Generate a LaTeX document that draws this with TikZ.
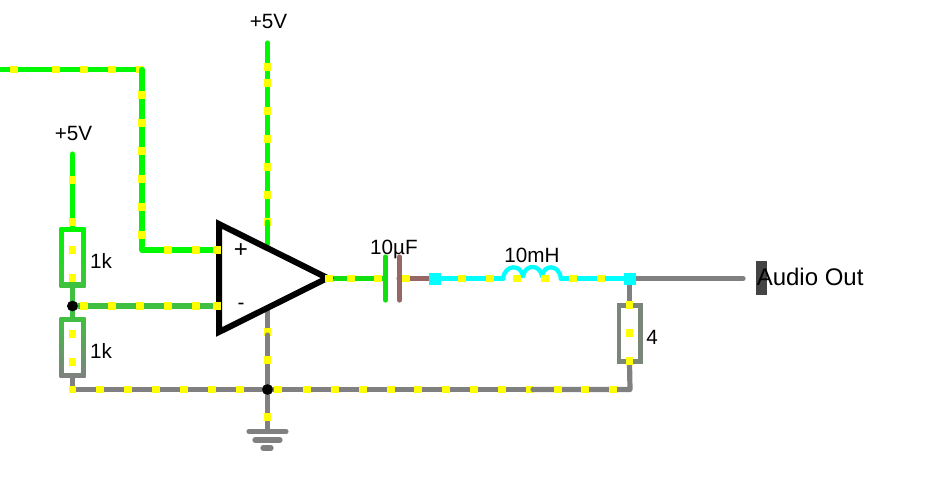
\documentclass[tikz,border=0pt]{standalone}
\usepackage{fontspec}
\setmainfont{Liberation Sans}
\usetikzlibrary{calc}

\definecolor{wireGreen}{HTML}{00F800}
\definecolor{midGreen}{HTML}{40C040}
\definecolor{outGreen}{HTML}{10E010}
\definecolor{capBrown}{HTML}{996666}
\definecolor{wireGray}{HTML}{808080}
\definecolor{plugGray}{HTML}{444444}
\definecolor{wireCyan}{HTML}{00FFFF}
\definecolor{dotYellow}{HTML}{FFFF00}

\begin{document}
\begin{tikzpicture}[
    x=0.75pt, y=-0.75pt,
    wire/.style={line width=3.9pt, line cap=round, line join=round},
    dotnode/.style={rectangle, fill=dotYellow, inner sep=0pt, minimum size=5.6pt},
    jointnode/.style={circle, fill=black, inner sep=0pt, minimum size=8pt},
    endnode/.style={rectangle, fill=wireCyan, inner sep=0pt, minimum size=9pt},
    resnode/.style={rectangle, inner sep=0pt, minimum width=19.5pt, minimum height=45pt},
    holenode/.style={rectangle, fill=white, inner sep=0pt, minimum width=12.75pt, minimum height=38pt},
    labelnode/.style={inner sep=0pt, font=\fontsize{15.5}{19}\selectfont},
]
    \useasboundingbox (0, 0) rectangle (931, 487);

    % wire corners and ends
    \foreach \name/\x/\y in {
    inStart/0/69.5, inTop/142/69.5, inLow/142/250, plusIn/218/250,
    vccTop/267.5/43, vccSplit/267.5/222, vccEnd/267.5/244,
    vsTop/72.5/154, vsEnd/72.5/229,
    minusIn/218/306,
    r1Bot/72.5/286, r2Top/72.5/319, r2Bot/72.5/376,
    railLeft/72.5/389.5, railSplit/533/389.5, railRight/630/389.5,
    gndOut/267.5/310, gndSplit/267.5/335, gndEnd/267.5/431,
    opOut/329/278.5, capL/385/278.5, capR/399/278.5,
    coilA/503/278.5, coilB/523/276, coilC/542/276, coilD/561/278.5,
    audioEnd/743/278.5,
    r3Top/629.5/304, r3Bot/629.5/363,
    gndL1/249/431.5, gndR1/286/431.5, gndL2/255/440, gndR2/280/440, gndL3/263/448, gndR3/271/448,
    capLa/385.5/257, capLb/385.5/300, capRa/399.5/257, capRb/399.5/300}
    {
        \coordinate (\name) at (\x, \y);
    }
    \node [endnode] at (435, 278.5) (coilIn){};
    \node [endnode] at (629.5, 278.5) (coilOut){};
    \node [jointnode] at (72.5, 306) (midJoint){};
    \node [jointnode] at (267.5, 389.5) (gndJoint){};

    % wires that lie under the first yellow squares
    \draw [wire, wireGray] (railLeft) -- (railSplit);
    \draw [wire, wireGreen] (inStart) -- (inTop);
    \draw [wire, wireGreen] (vccTop) -- (vccSplit);
    \draw [wire, wireGray] (gndOut) -- (gndSplit);
    \foreach \x/\y in {530/389.5, 140/69.5, 267.5/222, 267.5/332}
    {
        \node [dotnode] at (\x, \y) (early_\x_\y){};
    }

    % the other wires
    \draw [wire, wireGray] (railSplit) -- (railRight) -- (r3Bot);
    \draw [wire, wireGreen] (inTop) -- (inLow) -- (plusIn);
    \draw [wire, wireGreen] (vccSplit) -- (vccEnd);
    \draw [wire, wireGray] (gndSplit) -- (gndEnd);
    \draw [wire, wireGreen] (vsTop) -- (vsEnd);
    \draw [wire, midGreen] (r1Bot) -- (r2Top);
    \draw [wire, midGreen] (midJoint) -- (minusIn);
    \draw [wire, wireGray] (r2Bot) -- (railLeft);
    \draw [wire, outGreen] (opOut) -- (capL);
    \draw [wire, capBrown] (capR) -- (coilIn);
    \draw [wire, wireCyan] (coilIn) -- (coilA);
    \draw [wire, wireCyan] (coilD) -- (coilOut);
    \draw [wire, wireGray] (coilOut) -- (audioEnd);
    \draw [wire, wireGray] (coilOut) -- (r3Top);

    % inductor humps
    \draw [wire, wireCyan, line width=3.2pt] (coilA) .. controls (505, 264) and (521, 264) .. (coilB);
    \draw [wire, wireCyan, line width=3.2pt] (coilB) .. controls (525, 264) and (540, 264) .. (coilC);
    \draw [wire, wireCyan, line width=3.2pt] (coilC) .. controls (544, 264) and (559, 264) .. (coilD);

    % capacitor plates
    \draw [wire, outGreen] (capLa) -- (capLb);
    \draw [wire, capBrown] (capRa) -- (capRb);

    % ground bars
    \draw [wire, wireGray] (gndL1) -- (gndR1);
    \draw [wire, wireGray] (gndL2) -- (gndR2);
    \draw [wire, wireGray] (gndL3) -- (gndR3);

    % resistors
    \node [resnode, top color=wireGreen, bottom color=midGreen] at (72.5, 257) (r1){};
    \node [holenode] at (r1.center) (r1Hole){};
    \node [resnode, top color=midGreen, bottom color=wireGray] at (72.5, 347.5) (r2){};
    \node [holenode] at (r2.center) (r2Hole){};
    \node [resnode, fill=wireGray!95!green, minimum height=46pt] at (629.5, 333.5) (r3){};
    \node [holenode] at (r3.center) (r3Hole){};

    % amplifier
    \draw [line width=4.5pt, fill=white, line join=miter] (219, 224) -- (219, 332) -- (327.5, 278) -- cycle;
    \node [labelnode, font=\fontsize{18}{20}\selectfont] at (241, 251) (plusSign){+};
    \node [labelnode] at (241, 306) (minusSign){-};

    % plug
    \node [rectangle, fill=plugGray, inner sep=0pt, minimum width=8pt, minimum height=26pt] at (761.5, 278) (plug){};

    % joints again, over the wires
    \node [jointnode] at (midJoint) (midJointTop){};
    \node [jointnode] at (gndJoint) (gndJointTop){};
    \node [endnode] at (coilIn) (coilInTop){};
    \node [endnode] at (coilOut) (coilOutTop){};

    % yellow squares
    \foreach \x/\y in {
    14/69.5, 56/69.5, 84/69.5, 112/69.5,
    142/95, 142/123, 142/151, 142/179, 142/207, 142/235,
    168/250, 196/250, 217/250,
    267.5/67, 267.5/83, 267.5/111, 267.5/139, 267.5/167, 267.5/195,
    72.5/180, 72.5/222, 72.5/250, 72.5/278, 72.5/334, 72.5/362,
    84/306, 112/306, 140/306, 168/306, 196/306, 217/306,
    72.5/389.5, 100/389.5, 128/389.5, 156/389.5, 184/389.5, 212/389.5, 240/389.5,
    278/389.5, 307/389.5, 335/389.5, 363/389.5, 391/389.5, 418/389.5, 446/389.5, 474/389.5, 502/389.5,
    558/389.5, 585/389.5, 613/389.5,
    267.5/360, 267.5/417,
    329/278.5, 351/278.5, 378/278.5, 406/278.5,
    462/278.5, 490/278.5, 517/278.5, 545/278.5, 573/278.5, 601/278.5,
    629.5/305, 629.5/333, 629.5/361}
    {
        \node [dotnode] at (\x, \y) (dot_\x_\y){};
    }

    % labels
    \node [labelnode] at (73.5, 133) (vsLabel){+5V};
    \node [labelnode] at (268.5, 21) (vccLabel){+5V};
    \node [labelnode] at (101, 261) (r1Label){1k};
    \node [labelnode] at (101, 351) (r2Label){1k};
    \node [labelnode] at (652, 337) (r3Label){4};
    \node [labelnode] at (394, 249) (capLabel){10µF};
    \node [labelnode] at (532, 255) (coilLabel){10mH};
    \node [labelnode, font=\fontsize{18}{22}\selectfont, anchor=west] at (756.5, 277) (audioLabel){Audio Out};

\end{tikzpicture}
\end{document}
